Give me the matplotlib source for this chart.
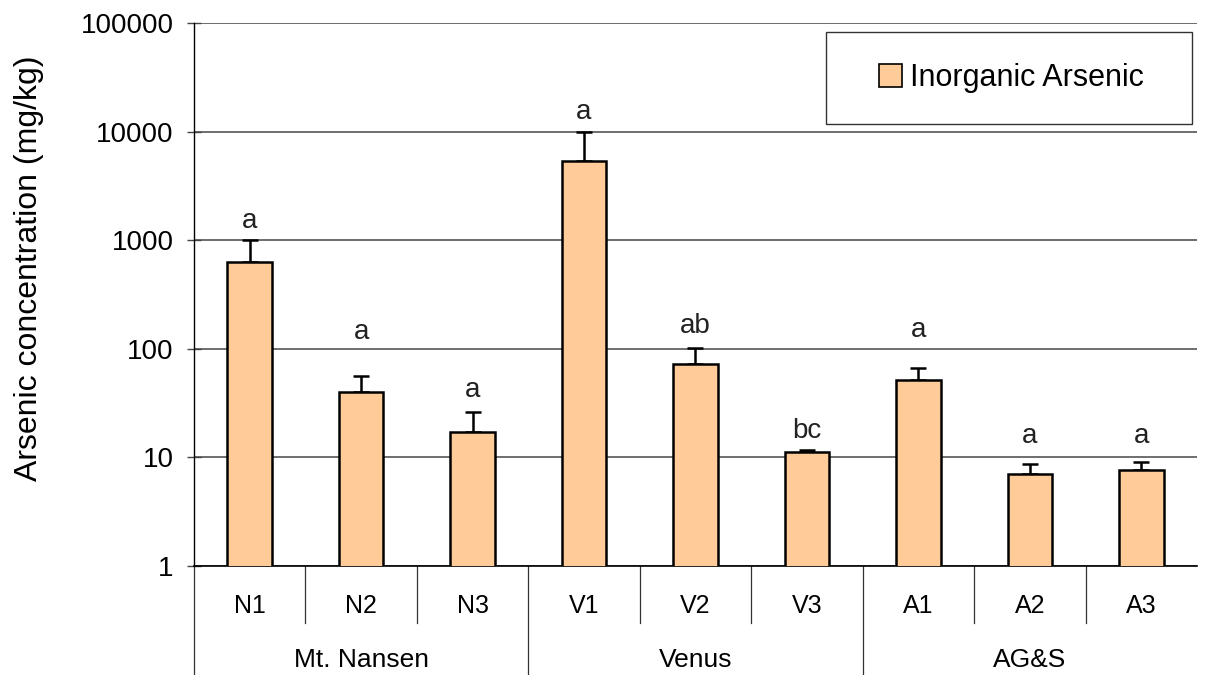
import matplotlib
matplotlib.use("Agg")
import matplotlib.pyplot as plt
from matplotlib.transforms import blended_transform_factory
from matplotlib.patches import Patch, Rectangle

plt.rcParams['font.family'] = ['Liberation Sans', 'DejaVu Sans']

samples = ["N1", "N2", "N3", "V1", "V2", "V3", "A1", "A2", "A3"]
groups = ["Mt. Nansen", "Venus", "AG&S"]
values = [626, 40, 17.2, 5400, 72.5, 11.3, 51.6, 7.1, 7.7]
err_top = [1000, 56.5, 26.2, 10000, 101, 11.8, 66.6, 8.7, 9.1]
letters = ["a", "a", "a", "a", "ab", "bc", "a", "a", "a"]
letter_y = [1150, 108, 31.5, 11500, 123, 13.4, 112, 11.9, 11.9]
yticks = [1, 10, 100, 1000, 10000, 100000]

fig = plt.figure(figsize=(12.07, 6.75), dpi=100)
ax = fig.add_axes([0.1607, 0.1615, 0.9917 - 0.1607, 0.9659 - 0.1615])

x = list(range(len(samples)))
errs = [[0] * len(values), [t - v for t, v in zip(err_top, values)]]
ax.bar(x, values, width=0.4, color="#FFCC99", edgecolor="black", linewidth=1.8,
       zorder=3, label="Inorganic Arsenic")
ax.errorbar(x, values, yerr=errs, fmt="none", ecolor="black", elinewidth=1.8,
            capsize=6, capthick=1.8, zorder=2)

for xi, ly, lt in zip(x, letter_y, letters):
    ax.text(xi, ly, lt, ha="center", va="bottom", fontsize=20, color="#222222")

ax.set_yscale("log")
ax.set_ylim(1, 100000)
ax.set_xlim(-0.5, len(samples) - 0.5)
ax.set_yticks(yticks)
ax.set_yticklabels([str(t) for t in yticks], fontsize=20)
ax.minorticks_off()
ax.tick_params(axis="y", direction="inout", length=10, width=1, pad=9.5,
               color="#444444")
ax.set_xticks([])
ax.yaxis.grid(True, color="#555555", linewidth=1.2, zorder=0)
ax.set_axisbelow(True)
for s in ["top", "right"]:
    ax.spines[s].set_visible(False)
ax.spines["left"].set_linewidth(1)
ax.spines["bottom"].set_linewidth(1.2)
ax.set_ylabel("Arsenic concentration (mg/kg)", fontsize=23)
ax.yaxis.set_label_coords(-0.1496, 0.548)

trans = blended_transform_factory(ax.transData, ax.transAxes)
for i in range(len(samples)):
    xb = i - 0.5
    bottom = -0.2 if i % 3 == 0 else -0.105
    ax.plot([xb, xb], [0, bottom], transform=trans, color="#333333",
            linewidth=0.9, clip_on=False)
for xi, s in zip(x, samples):
    ax.text(xi, -0.073, s, transform=trans, ha="center", va="center", fontsize=18)
for gi, g in enumerate(groups):
    ax.text(gi * 3 + 1, -0.173, g, transform=trans, ha="center", va="center",
            fontsize=19)

ax.add_patch(Rectangle((0.630, 0.814), 0.365, 0.1694, transform=ax.transAxes,
                       facecolor="white", edgecolor="#333333", linewidth=1,
                       zorder=5, clip_on=False))
leg = ax.legend(handles=[Patch(facecolor="#FFCC99", edgecolor="black",
                               linewidth=1.2, label="Inorganic Arsenic")],
                loc="center", bbox_to_anchor=(0.815, 0.8987),
                fontsize=22, frameon=False, handlelength=0.75,
                handleheight=0.75, handletextpad=0.25, borderpad=0,
                borderaxespad=0)
leg.set_zorder(6)

fig.savefig("out.png", dpi=100)
